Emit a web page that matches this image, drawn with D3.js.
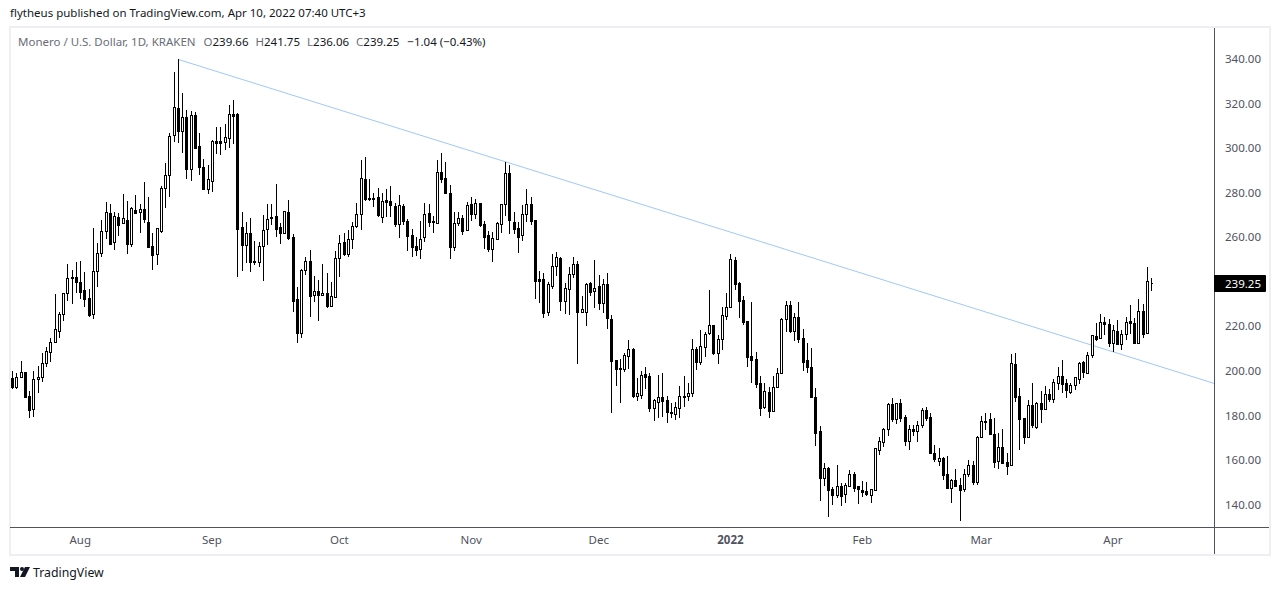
<!DOCTYPE html>
<html>
<head>
<meta charset="utf-8">
<title>XMR/USD</title>
<script src="https://d3js.org/d3.v7.min.js"></script>
<style>
  html, body { margin: 0; padding: 0; background: #fff; }
  svg { display: block; }
  text { font-family: "Noto Sans", sans-serif; }
</style>
</head>
<body>
<svg id="chart" width="1280" height="590"></svg>
<script>
// daily candles, first one is Jul 16 2021, last one Apr 10 2022
let firstDay = "2021-07-16";

let open = [196.6,192.6,197.1,199.3,188.7,182.7,196.2,197.1,203.4,208.3,213.1,218,225.4,234.8,242,242,239.7,236.3,232.5,225.7,
  244.7,252.8,262.6,270.7,257.7,268.9,266.2,267.7,257.1,272.2,271.5,272.5,266.7,256,252.6,262.9,282,287.8,306,317.8,
  307.8,313.8,290.8,314.7,300.8,291.4,281.5,285.4,303,303,302.9,304.7,315.2,315.2,264.4,256.7,261.8,249.3,249,255.9,
  263.5,268.6,269.4,264.4,262,271.2,260.1,232.1,217.2,245.1,249.2,234.2,235.9,233.9,234.8,229.3,233.3,250.5,257.7,252.5,
  259,264.9,270.3,286,277.5,277.5,278,269.1,276.6,276.1,274.2,266.1,273.9,267.4,260.8,255.9,254.5,259.9,270.7,267.1,
  266.5,289.1,286.4,279.7,255.7,266.5,268.5,263.4,274.7,270.5,275.2,265.9,260.8,254.8,259.3,266,274.7,288.7,266.7,264,
  260.8,270.2,274.7,267.6,241.1,241.1,226.6,238.2,246.9,250.7,231.5,236.6,243.3,247.8,226.6,226.6,239.3,236,237.9,230.3,
  238.8,223.1,204.9,201.3,201,206.8,209.8,188.9,189.3,198.6,197.7,183.5,186.1,188.1,186.9,181.2,180.8,183.2,188.4,188.9,
  190.2,209.9,204.1,210.9,217.1,220.6,208.1,214.1,224.8,228.5,249.8,239.3,231.6,222.4,206.7,205.3,194.4,183.8,190.3,182.1,
  192.6,198.9,223.5,229.4,217.9,224,214.6,204.9,201.6,188.1,172.9,151.8,156.2,146.8,144.4,148.2,144.6,148.5,153.5,148.2,
  146.4,146.1,144.4,146.7,164.6,168.2,173.8,185,178.5,185.4,179.1,168.7,173.8,173.2,175.8,182.3,179.1,163.3,159.5,160.7,
  153.6,147.6,150.9,148.6,146.8,153.6,157.6,150.3,170.2,177.2,178.2,171.7,159.5,165.8,158.9,157.9,203.1,188.7,178.7,170.3,
  184.7,174.9,185.4,182.9,189.6,187.5,194.7,197.7,194.6,190.5,193.5,196.5,203.9,199.2,206.9,215.5,214.6,221.8,220.9,212.4,
  217.9,212.1,216.4,222.4,221.4,212.7,226.9,216.8,239.66];

let high = [199.9,198.9,204.4,199.6,191.1,199.9,202.2,207.9,210.5,214.6,234.5,226.6,234.8,248,245.3,248.9,249.5,244.4,236.7,264.1,
  257.5,267.7,275.6,274.9,271.5,270.7,279.4,276.2,273.7,278.9,274.9,284.8,277.9,261.9,264,283,293.2,306.6,334,339.8,
  324.6,317,316.6,316.4,307,295,292.3,303.6,309.3,309.3,310.8,319.4,321.6,315.9,271.3,266.8,268.5,258.3,257.7,269.8,
  274.9,274.9,283.9,266.2,271.6,276.6,261.3,237.7,245.6,251,254.3,242.6,240.8,248,243.9,239.9,253.7,261,261.8,263.3,
  266.8,275.2,294.7,296,286,280,282,279.7,281.7,282.9,275.2,278.8,274.9,268,263.9,259.9,267.1,275.2,274.7,269.5,
  294.6,297.6,293.6,283.3,271.2,271.2,270,275.8,278,277,275.2,267.2,262.6,262.2,266.6,274.7,293.6,292.4,271.2,266.7,
  274.3,281.5,278,267.6,244.7,243.8,239.7,252.5,253.2,251.1,239.3,246.5,250.9,249.2,233.6,239.3,239.7,249.6,243,241.1,
  243.8,225,204.9,205.2,207.9,213.8,210.1,197,199.8,201.7,198.9,187.4,198.1,198.9,188.7,185.4,185.9,193.2,197.7,194.4,
  214.3,210.6,218.3,217.3,236.1,220.6,216.1,228.5,234.8,252.3,251,239.7,233.6,222.6,230.9,208.6,197.7,194.4,192.9,197.7,
  201.1,223.8,231.5,231.2,226.1,231,218.8,212.3,210.1,192.2,175.2,158.5,156.7,148,157.7,149.5,149.5,155.3,154.6,148.3,
  150.7,150.1,147,165.4,170.2,174.2,185.4,187.7,185.4,187.4,180.2,175.8,175.7,177.5,183.2,183.8,181.2,166.7,165.2,161.2,
  161.8,151.5,155.9,151.8,155.8,160,159.5,170.8,179.7,181.1,181.1,178.7,171.9,173.8,163,207.6,207.9,192.2,179,186.9,
  194.5,186.2,191.1,193.2,191.7,196.2,201.8,204.9,196.2,194.7,197.4,204,204.5,208.3,216.1,221.4,225.5,224,223.3,220.6,
  222.7,218.4,224,229.6,223.9,232.3,230,246.8,241.75];

let low = [191.7,191.7,197.1,187.7,179,179.4,190.2,195,201.9,204.1,213.1,214.9,222.5,231.5,230,235.1,232.4,228.8,224.3,223.4,
  237.8,251.3,259,256.5,254.4,260.5,266.2,252.6,255.7,270.7,262,266.2,255,245.3,247.7,262,273.1,278.2,302.9,302.4,
  298,286.3,285.4,299.4,287.9,281.2,279.4,280.4,297.4,297,299.2,300.2,301.9,242.3,245,248.3,244.5,247.5,246.8,240.5,
  256.5,265.6,260.3,257.1,262,258.9,226.6,212.7,214.8,243.1,224.3,230.9,222.5,233.6,228.4,228.8,233,242.3,251.6,251,
  254.9,264,263.3,276.4,276.4,273.7,269.2,266.5,269.2,269.2,264.4,259.7,265.6,253.7,251.2,251.7,250.3,258,264.7,262,
  266.5,284.5,279.4,250.3,253.9,265,261.1,262.9,267.3,268.3,264.7,254.8,253.5,249,258.9,261.9,269.5,261.4,261.4,253,
  258.4,266.9,265.6,232.4,230.6,223.9,224.8,236.9,242.7,227,225.7,225.2,241.8,203.2,226.1,220.3,233.7,228.3,227.3,225.8,
  218.8,181.2,193.3,185.7,199.5,201,188,186.6,187.5,192,181.7,177.6,179,179.4,176.7,178.7,177.9,178.7,183.6,186.6,
  188.4,200.4,202.6,206.4,216.1,207.3,203.1,209.4,222.8,228.5,236.3,223.7,220.6,201.7,194.4,192.4,179.9,182.7,179,181.5,
  192.6,198.7,217.6,216.8,213.5,212.3,200,199.2,187.8,166.3,141.7,148.5,134.5,139.8,143.1,139.3,140.5,148,145.8,140.2,
  143.5,143.8,140.8,146.5,162.2,166,170.9,177.2,176.3,177.2,166.4,164.6,170.9,168.2,174.5,177.6,163,159.2,157.3,151,
  147.3,140.8,148.5,132.7,145.8,152.2,148.8,148.8,170,173.3,171.1,156.5,156.1,158.5,153.3,157.4,185.8,164.5,167.2,170,
  174.2,174,176.4,182.6,185.8,185.4,191.4,190.2,188,189.6,191.4,194.1,196.7,199.2,205.7,213.3,214.4,216.1,210.9,208.6,
  211.6,209.4,213.9,216.4,212.1,212.4,214.9,216.8,236.06];

let close = [192.9,197.1,199.3,188.4,182.6,196.2,197.1,203.4,208.8,212.8,218.6,225.4,234.8,241.5,241.5,239.7,235.5,232.4,225.1,244.7,
  252.8,262.6,271.5,256.9,269.5,265.5,268.5,256.9,273,271,272.5,268.3,255.7,252.2,264,282,287.8,305.3,318.3,307.8,
  313.8,290.8,314.7,300.2,291.4,281.5,286,303.2,302.4,302.4,304.8,315.2,314.6,263.5,256.7,261.8,249,248.9,255.9,263.1,
  268,268.9,263.8,262,271.6,259.8,231.5,217.2,245.1,249.2,233.8,235.7,234.2,234.8,229.3,233.5,250.5,257.6,252.5,259,
  264.9,270.3,286.4,277.3,277.2,277.2,270,276.1,275.8,274.5,266.1,274.3,267.4,260.7,255.7,254.4,259.3,270.2,266.9,266.8,
  289.1,286.2,280,255.7,266.5,268.5,262.9,274.3,270.5,275.2,265.6,260.2,254.8,259.5,266.2,274.7,288.7,267.9,263.8,260.2,
  270.2,274.7,267.4,240.5,240.3,226.1,238.8,246.9,250.9,231.5,237,243.3,247.8,226.4,227.6,238.8,235.5,237,230.6,238.8,
  223.9,204.6,201,201,207,209.8,188.7,189.9,198,197.4,183.5,186.8,188.1,186.6,181.5,181.5,183.6,188.5,188.7,190.2,
  209.7,204.1,211,216.4,220.4,208.1,214.1,224.9,228.5,250,239.1,231.5,222,206.4,204.9,194.2,183.5,191,182.1,192.6,
  198.9,223.5,229.4,218,224,214.4,204.1,201.6,188.1,172.3,152.1,156.2,146.7,144.4,148.2,144,148.9,153.5,147.6,147,
  145.8,144.7,146.8,165.2,168.4,173.8,185,178.5,185.4,178.8,168.7,173.8,173.2,175.8,182.4,178.8,163.3,160.6,160.9,153.4,
  147.6,150.9,148.5,146.5,153.6,157.6,150.3,170.2,177.3,177.5,171.7,159.2,165.8,158.8,157.4,203.4,188.4,178.5,170.5,184.5,
  175.7,185.4,183,189.6,187.5,194.9,197.7,194.3,191.4,193.5,197.2,203.4,199.5,206.9,216,214.5,221.8,221.2,212.7,218.4,
  212.2,216.4,221.8,221.7,212.5,227,216.5,240.2,239.25];

let priceTicks = [140, 160, 180, 200, 220, 240, 260, 280, 300, 320, 340];
let timeTicks = ["2021-08-01", "2021-09-01", "2021-10-01", "2021-11-01", "2021-12-01", "2022-01-01", "2022-02-01", "2022-03-01", "2022-04-01"];
let timeLabels = ["Aug", "Sep", "Oct", "Nov", "Dec", "2022", "Feb", "Mar", "Apr"];

let trendDates = ["2021-08-24", "2022-04-25"];
let trendPrices = [339.8, 194.2];

let lastPrice = 239.25;

let svg = d3.select("#chart");
let parseDay = d3.utcParse("%Y-%m-%d");
let labelSize = 11.5;

let days = open.map((d, i) => d3.utcDay.offset(parseDay(firstDay), i));

let x = d3.scaleUtc()
  .domain([days[0], days[days.length - 1]])
  .range([12.5, 1151.5]);
let y = d3.scaleLinear()
  .domain([140, 340])
  .range([504.5, 59]);

// pane frame
let paneLeft = 10, paneRight = 1214, paneTop = 27, paneBottom = 527, frameRight = 1270, frameBottom = 555;

svg.append("rect")
  .attr("x", paneLeft)
  .attr("y", paneTop)
  .attr("width", frameRight - paneLeft)
  .attr("height", frameBottom - paneTop)
  .attr("fill", "#fff")
  .attr("stroke", "#eeeef3")
  .attr("stroke-width", 2);

svg.append("defs").append("clipPath").attr("id", "pane")
  .append("rect")
  .attr("x", paneLeft)
  .attr("y", paneTop)
  .attr("width", paneRight - paneLeft)
  .attr("height", paneBottom - paneTop);

// trend line sits under the candles
svg.append("line")
  .attr("clip-path", "url(#pane)")
  .attr("x1", x(parseDay(trendDates[0])))
  .attr("y1", y(trendPrices[0]))
  .attr("x2", x(parseDay(trendDates[1])))
  .attr("y2", y(trendPrices[1]))
  .attr("stroke", "#9fc9f7")
  .attr("stroke-width", 1);

// candles, snapped to whole pixels like the original
let candles = svg.append("g").attr("shape-rendering", "crispEdges");
let col = i => Math.floor(x(days[i]));

candles.selectAll("line")
  .data(open)
  .join("line")
  .attr("x1", (d, i) => col(i) + 0.5)
  .attr("x2", (d, i) => col(i) + 0.5)
  .attr("y1", (d, i) => Math.round(y(high[i])))
  .attr("y2", (d, i) => Math.round(y(low[i])))
  .attr("stroke", "#000");

// bodies are paths, a rect with no height would not show the doji dash
candles.selectAll("path")
  .data(open)
  .join("path")
  .attr("d", (d, i) => {
    let top = Math.round(y(Math.max(d, close[i]))) + 0.5;
    let bottom = Math.round(y(Math.min(d, close[i]))) + 0.5;
    return `M${col(i) - 0.5} ${top}H${col(i) + 1.5}V${bottom}H${col(i) - 0.5}Z`;
  })
  .attr("fill", (d, i) => close[i] >= d ? "#fff" : "#000")
  .attr("stroke", "#000");

// price axis
let yAxis = d3.axisRight(y)
  .tickValues(priceTicks)
  .tickFormat(d3.format(".2f"))
  .tickSize(0)
  .tickPadding(11);
let yG = svg.append("g")
  .attr("transform", `translate(${paneRight},0)`)
  .call(yAxis);
yG.select(".domain").remove();
yG.selectAll("text")
  .attr("font-size", labelSize)
  .attr("fill", "#50535e")
  .style("font-family", '"Noto Sans", sans-serif');

// time axis
let xAxis = d3.axisBottom(x)
  .tickValues(timeTicks.map(parseDay))
  .tickFormat((d, i) => timeLabels[i])
  .tickSize(0)
  .tickPadding(9);
let xG = svg.append("g")
  .attr("transform", `translate(-0.8,${paneBottom})`)
  .call(xAxis);
xG.select(".domain").remove();
xG.selectAll("text")
  .attr("font-size", labelSize)
  .attr("fill", "#50535e")
  .style("font-family", '"Noto Sans", sans-serif')
  .attr("font-weight", (d, i) => timeLabels[i] == "2022" ? "bold" : "normal");

// axis borders
svg.append("line")
  .attr("x1", paneLeft).attr("x2", frameRight - 1)
  .attr("y1", paneBottom + 0.5).attr("y2", paneBottom + 0.5)
  .attr("stroke", "#50535e");
svg.append("line")
  .attr("x1", paneRight + 0.5).attr("x2", paneRight + 0.5)
  .attr("y1", paneTop + 1).attr("y2", frameBottom - 1)
  .attr("stroke", "#50535e");

// last price tag
svg.append("rect")
  .attr("x", paneRight)
  .attr("y", y(lastPrice) - 8.5)
  .attr("width", 52)
  .attr("height", 17)
  .attr("rx", 1)
  .attr("fill", "#000");
svg.append("text")
  .attr("x", paneRight + 11)
  .attr("y", y(lastPrice) + 4.5)
  .attr("font-size", labelSize)
  .attr("fill", "#fff")
  .text(d3.format(".2f")(lastPrice));

// header texts
svg.append("text")
  .attr("x", 10).attr("y", 17)
  .attr("font-size", labelSize)
  .attr("fill", "#131722")
  .text("flytheus published on TradingView.com, Apr 10, 2022 07:40 UTC+3");

let legend = svg.append("text").attr("x", 18).attr("y", 46).attr("font-size", labelSize).attr("fill", "#131722");
legend.append("tspan").attr("fill", "#6a6d78").text("Monero / U.S. Dollar, 1D, KRAKEN");
legend.append("tspan").attr("dx", 8).attr("fill", "#6a6d78").text("O");
legend.append("tspan").text("239.66");
legend.append("tspan").attr("dx", 7).attr("fill", "#6a6d78").text("H");
legend.append("tspan").text("241.75");
legend.append("tspan").attr("dx", 7).attr("fill", "#6a6d78").text("L");
legend.append("tspan").text("236.06");
legend.append("tspan").attr("dx", 7).attr("fill", "#6a6d78").text("C");
legend.append("tspan").text("239.25");
legend.append("tspan").attr("dx", 8).text("\u22121.04 (\u22120.43%)");

// footer logo
let logo = svg.append("g").attr("transform", "translate(10,567)").attr("fill", "#131722");
logo.append("path").attr("d", "M0 0H9V10H5V4H0Z");
logo.append("circle").attr("cx", 12).attr("cy", 2).attr("r", 2);
logo.append("path").attr("d", "M15 0H20L15 10H10Z");
svg.append("text")
  .attr("x", 33).attr("y", 577)
  .attr("font-size", 12.3)
  .attr("fill", "#131722")
  .text("TradingView");
</script>
</body>
</html>
